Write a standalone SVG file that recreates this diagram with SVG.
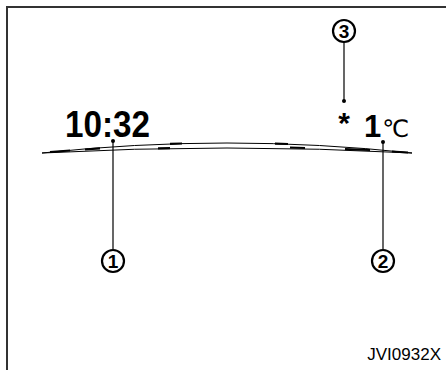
<svg xmlns="http://www.w3.org/2000/svg" width="446" height="370" viewBox="0 0 446 370">
<style>
.frame{fill:none;stroke:#333;stroke-width:2}
.arc{fill:none;stroke:#000;stroke-width:1}
.seg{stroke:#000;stroke-width:2.2}
.lead{stroke:#000;stroke-width:1.2;fill:none}
.dot{fill:#000}
.cn circle{fill:#fff;stroke:#000;stroke-width:2.2}
.cn text{font-family:"Liberation Sans",Arial,sans-serif;font-weight:bold;font-size:19px;text-anchor:middle;fill:#000}
.f{font-family:"Liberation Sans",Arial,sans-serif;fill:#000}
</style>
<rect width="446" height="370" fill="#fff"/>
<path class="frame" d="M7,370 V7 H446"/>
<g id="display">
<path class="arc" d="M42,153 Q227,133 412,153"/>
<path class="arc" d="M42,153 Q227,143 412,153"/>
<line class="seg" x1="50" y1="152" x2="70" y2="150.5"/>
<line class="seg" x1="85" y1="149.5" x2="100" y2="148.3"/>
<line class="seg" x1="170" y1="143.8" x2="182" y2="143.5"/>
<line class="seg" x1="158" y1="148.4" x2="170" y2="148.2"/>
<line class="seg" x1="275" y1="143.7" x2="288" y2="144"/>
<line class="seg" x1="290" y1="147.5" x2="305" y2="148"/>
<line class="seg" x1="345" y1="149.2" x2="370" y2="150"/>
<line class="seg" x1="392" y1="151.5" x2="408" y2="152.5"/>
<text class="f" x="65" y="137" font-size="37" font-weight="bold" textLength="85" lengthAdjust="spacingAndGlyphs">10:32</text>
<text class="f" x="364" y="137" font-size="31" font-weight="bold">1<tspan font-family="DejaVu Sans,sans-serif" font-size="24" font-weight="normal" dx="1">℃</tspan></text>
<text class="f" x="344" y="133" font-size="30" font-weight="bold" text-anchor="middle">*</text>
</g>
<g id="connectors">
<line class="lead" x1="113" y1="141" x2="113" y2="249"/>
<circle class="dot" cx="113" cy="141" r="2"/>
<line class="lead" x1="383" y1="142" x2="383" y2="249"/>
<circle class="dot" cx="383" cy="142" r="2"/>
<line class="lead" x1="344" y1="41" x2="344" y2="101"/>
<circle class="dot" cx="344" cy="101" r="2"/>
</g>
<g id="label1" class="cn"><circle cx="113" cy="261" r="11"/><text x="113" y="268">1</text></g>
<g id="label2" class="cn"><circle cx="383" cy="261" r="11"/><text x="383" y="268">2</text></g>
<g id="label3" class="cn"><circle cx="344" cy="31" r="11"/><text x="344" y="38">3</text></g>
<text class="f" x="441" y="360" font-size="17" text-anchor="end">JVI0932X</text>
</svg>
